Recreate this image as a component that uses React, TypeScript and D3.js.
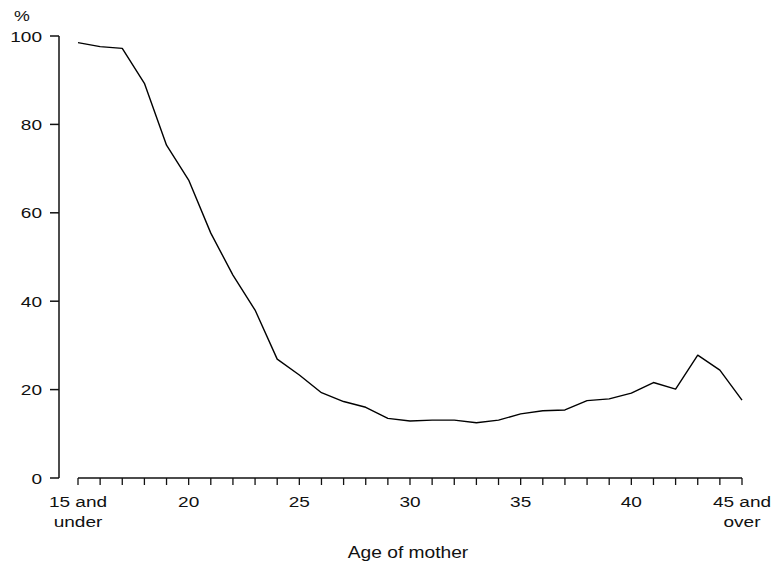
import React from 'react';
import * as d3 from 'd3';

const ages = [15, 16, 17, 18, 19, 20, 21, 22, 23, 24, 25, 26, 27, 28, 29, 30,
              31, 32, 33, 34, 35, 36, 37, 38, 39, 40, 41, 42, 43, 44, 45];

const percent = [98.5, 97.6, 97.2, 89.3, 75.3, 67.4, 55.4, 45.9, 38.0, 26.9, 23.3,
                 19.3, 17.3, 16.0, 13.5, 12.9, 13.1, 13.1, 12.5, 13.1, 14.5,
                 15.2, 15.4, 17.5, 17.9, 19.2, 21.6, 20.1, 27.8, 24.4, 17.6];

const yTicks = [0, 20, 40, 60, 80, 100];
const xLabelAges = [15, 20, 25, 30, 35, 40, 45];
const xLabels = [['15 and', 'under'], ['20'], ['25'], ['30'], ['35'], ['40'], ['45 and', 'over']];

const font = '"Liberation Sans", Arial, Helvetica, sans-serif';
const stretch = 1.27;

export default function App() {
  const width = 777, height = 565;

  const x = d3.scaleLinear().domain([15, 45]).range([78, 742]);
  const y = d3.scaleLinear().domain([0, 100]).range([478, 36]);

  const line = d3.line<number>()
                 .x((d, i) => x(ages[i]))
                 .y(d => y(d));

  const yAxisX = 59;
  const xAxisY = y(0);

  return (
    <svg width={width} height={height}
         style={{position: 'absolute', left: 0, top: 0, background: '#fff'}}
         fontFamily={font}>
      {/* y axis */}
      <line x1={yAxisX} x2={yAxisX} y1={y(0)} y2={y(100)} stroke="#111" strokeWidth={1.5} />
      {yTicks.map(t =>
        <g key={t} transform={`translate(0,${y(t)})`}>
          <line x1={yAxisX - 9} x2={yAxisX} stroke="#111" strokeWidth={1.5} />
          <text transform={`translate(42,5.5) scale(${stretch},1)`} textAnchor="end"
                fontSize={15} fill="#111">{t}</text>
        </g>
      )}
      <text transform={`translate(22,21) scale(${stretch},1)`} textAnchor="middle"
            fontSize={14} fill="#111">%</text>

      {/* x axis */}
      <line x1={x(15)} x2={x(45)} y1={xAxisY} y2={xAxisY} stroke="#111" strokeWidth={1.5} />
      {ages.map(a =>
        <line key={a} x1={x(a)} x2={x(a)} y1={xAxisY} y2={xAxisY + 7}
              stroke="#111" strokeWidth={1.3} />
      )}
      {xLabelAges.map((a, i) =>
        <g key={a} transform={`translate(${x(a)},${xAxisY + 29})`}>
          {xLabels[i].map((s, j) =>
            <text key={j} transform={`translate(0,${j * 20}) scale(${stretch},1)`}
                  textAnchor="middle" fontSize={15} fill="#111">{s}</text>
          )}
        </g>
      )}
      <text transform={`translate(408,558) scale(1.2,1)`} textAnchor="middle"
            fontSize={16} fill="#111">Age of mother</text>

      {/* data line */}
      <path d={line(percent) || ''} fill="none" stroke="#000" strokeWidth={1.4}
            strokeLinejoin="round" />
    </svg>
  );
}
